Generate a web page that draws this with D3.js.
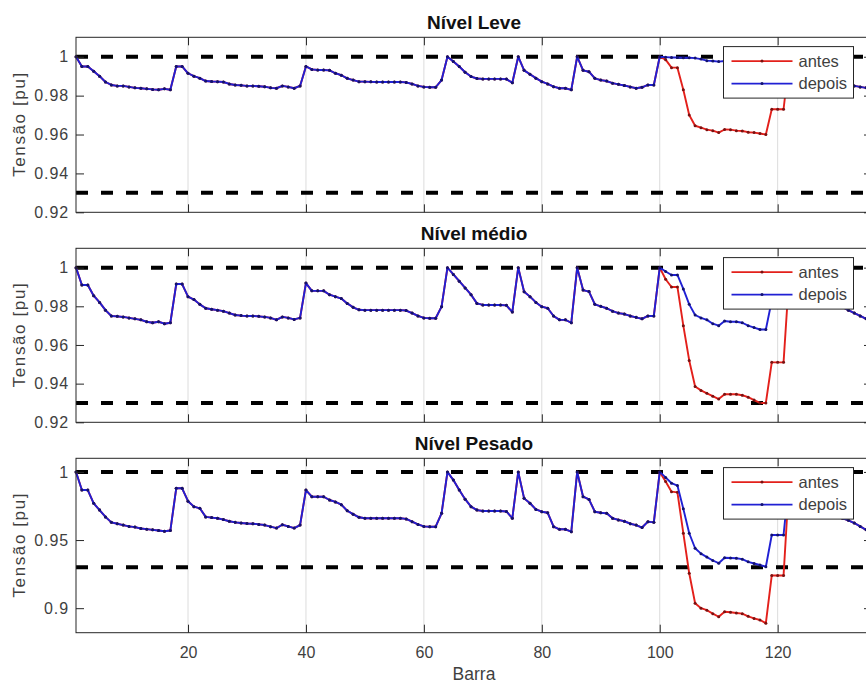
<!DOCTYPE html>
<html><head><meta charset="utf-8">
<script src="https://cdn.jsdelivr.net/npm/d3@7"></script>
<style>
body{margin:0;background:#fff}
svg{display:block}
text{font-family:"Liberation Sans",Arial,Helvetica,sans-serif}
</style>
</head><body>
<svg id="chart" width="866" height="684"></svg>
<script>
// ---------------- DATA ----------------
const barras = d3.range(1, 137); // bus numbers 1..136
const xTicks = [20, 40, 60, 80, 100, 120];
const yTicksA = [0.92, 0.94, 0.96, 0.98, 1];
const yTicksB = [0.9, 0.95, 1];
const limites = [1.0, 0.93];
const titulos = ["Nível Leve", "Nível médio", "Nível Pesado"];
const legendas = ["antes", "depois"];

const depoisLeve = [
 1.000,0.995,0.995,0.9925,0.990,0.987,0.9855,0.985,0.985,0.9845,
 0.984,0.9838,0.9835,0.9832,0.983,0.9835,0.983,0.995,0.995,0.9915,
 0.990,0.989,0.9875,0.9873,0.9872,0.987,0.986,0.9855,0.9853,0.985,
 0.985,0.9848,0.9846,0.984,0.9838,0.985,0.9845,0.9838,0.985,0.995,
 0.9935,0.9932,0.9932,0.993,0.9915,0.9905,0.9889,0.988,0.9872,0.9872,
 0.9871,0.987,0.987,0.987,0.987,0.987,0.9868,0.986,0.985,0.9845,
 0.9843,0.9843,0.988,1.000,0.9975,0.995,0.992,0.9898,0.9888,0.9886,
 0.9886,0.9886,0.9886,0.9885,0.9866,1.000,0.993,0.991,0.989,0.9872,
 0.986,0.9846,0.9838,0.9838,0.983,1.000,0.993,0.9923,0.9889,0.988,
 0.9875,0.9864,0.9858,0.9852,0.9845,0.9838,0.9843,0.9855,0.9855,1.000,
 0.9998,0.9996,0.9996,0.9995,0.9995,0.9993,0.9988,0.998,0.9978,0.9975,
 0.9978,0.9977,0.9977,0.9975,0.997,0.9968,0.9965,0.9965,0.9985,0.9985,
 0.9985,0.999,0.998,0.997,0.996,0.995,0.993,0.991,0.990,0.989,
 0.988,0.9865,0.985,0.9845,0.984,0.9835
];
const antesLeveTrecho = [ // buses 101..121
 0.9985,0.9944,0.9944,0.983,0.970,0.9645,0.9635,0.9625,0.962,0.961,
 0.9626,0.9625,0.962,0.9618,0.9612,0.961,0.9605,0.960,0.973,0.973,0.973
];

const depoisMedio = [
 1.000,0.991,0.991,0.9855,0.982,0.978,0.975,0.9748,0.9745,0.974,
 0.9735,0.973,0.972,0.9715,0.972,0.971,0.9715,0.9915,0.9915,0.985,
 0.9835,0.981,0.979,0.9785,0.978,0.9775,0.9765,0.9755,0.9752,0.975,
 0.975,0.9748,0.9745,0.974,0.973,0.9745,0.974,0.9732,0.974,0.992,
 0.988,0.988,0.988,0.986,0.985,0.984,0.9815,0.9795,0.9782,0.978,
 0.978,0.978,0.978,0.978,0.978,0.978,0.9778,0.9765,0.975,0.974,
 0.9738,0.9738,0.9798,1.000,0.9965,0.993,0.9895,0.986,0.9815,0.9807,
 0.9807,0.9807,0.9807,0.9805,0.977,1.000,0.9875,0.985,0.982,0.9798,
 0.979,0.975,0.973,0.973,0.9715,1.000,0.9884,0.9876,0.981,0.980,
 0.979,0.9775,0.9765,0.976,0.975,0.9743,0.9735,0.975,0.975,1.000,
 0.998,0.9962,0.9962,0.989,0.981,0.9755,0.974,0.973,0.971,0.970,
 0.9724,0.972,0.972,0.9715,0.970,0.969,0.968,0.968,0.983,0.983,
 0.983,0.998,0.997,0.995,0.993,0.991,0.989,0.986,0.983,0.9805,
 0.9795,0.978,0.9765,0.975,0.9735,0.9725
];
const antesMedioTrecho = [ // buses 101..121
 0.994,0.990,0.990,0.970,0.952,0.9385,0.9365,0.935,0.9335,0.932,
 0.9345,0.9345,0.9345,0.934,0.933,0.9315,0.930,0.930,0.951,0.951,0.951
];

const depoisPesado = [
 1.000,0.9867,0.9867,0.977,0.972,0.967,0.963,0.962,0.961,0.960,
 0.9595,0.9585,0.958,0.9575,0.957,0.9565,0.957,0.988,0.988,0.9785,
 0.9745,0.9733,0.967,0.9665,0.966,0.965,0.9638,0.963,0.9625,0.9622,
 0.962,0.9615,0.961,0.9598,0.9588,0.9612,0.960,0.9588,0.961,0.9867,
 0.9818,0.9818,0.9818,0.9794,0.978,0.976,0.9715,0.969,0.9667,0.966,
 0.966,0.966,0.966,0.966,0.966,0.966,0.9655,0.9635,0.9615,0.960,
 0.9598,0.9598,0.9696,1.000,0.994,0.9867,0.980,0.9745,0.972,0.9713,
 0.9713,0.9713,0.9713,0.971,0.966,1.000,0.9806,0.977,0.9725,0.9708,
 0.970,0.9598,0.9579,0.9579,0.9561,1.000,0.9818,0.9798,0.9708,0.970,
 0.9696,0.966,0.9648,0.9638,0.962,0.961,0.9592,0.9635,0.963,1.000,
 0.996,0.9917,0.990,0.973,0.955,0.944,0.940,0.9375,0.935,0.933,
 0.937,0.9368,0.9366,0.936,0.934,0.9328,0.9317,0.9304,0.9537,0.9537,
 0.9537,0.997,0.995,0.992,0.989,0.985,0.981,0.977,0.973,0.969,
 0.966,0.9645,0.9625,0.960,0.9575,0.956
];
const antesPesadoTrecho = [ // buses 101..121
 0.993,0.9855,0.985,0.955,0.9256,0.9036,0.900,0.8985,0.896,0.8937,
 0.8974,0.897,0.8965,0.896,0.894,0.8925,0.8913,0.889,0.924,0.924,0.924
];

// "antes" equals "depois" outside the modified stretch (buses 101..121)
function montarAntes(depois, trecho) {
  return depois.slice(0, 100).concat(trecho, depois.slice(121));
}
const antesLeve = montarAntes(depoisLeve, antesLeveTrecho);
const antesMedio = montarAntes(depoisMedio, antesMedioTrecho);
const antesPesado = montarAntes(depoisPesado, antesPesadoTrecho);

// ---------------- LAYOUT ----------------
const svg = d3.select("#chart");
svg.append("rect").attr("width", 866).attr("height", 684).attr("fill", "#fff");

const x = d3.scaleLinear().domain([1, 136]).range([76, 872]);

const panels = [
  {title: titulos[0], top: 37.3, bottom: 212.3, yDomain: [0.92, 1.01], yTicks: yTicksA, antes: antesLeve, depois: depoisLeve, showX: false},
  {title: titulos[1], top: 248.3, bottom: 422.3, yDomain: [0.92, 1.01], yTicks: yTicksA, antes: antesMedio, depois: depoisMedio, showX: false},
  {title: titulos[2], top: 458.3, bottom: 632.7, yDomain: [0.882, 1.01], yTicks: yTicksB, antes: antesPesado, depois: depoisPesado, showX: true}
];

const RED = "#e3201b", RED_DOT = "#7a1111";
const BLUE = "#2020d4", BLUE_DOT = "#12126e";
const AXIS = "#262626", LABEL = "#3f3f3f";

panels.forEach(p => {
  const y = d3.scaleLinear().domain(p.yDomain).range([p.bottom, p.top]);
  const g = svg.append("g");

  // vertical grid
  g.selectAll("line.grid").data(xTicks).enter().append("line")
    .attr("x1", d => x(d)).attr("x2", d => x(d))
    .attr("y1", p.top).attr("y2", p.bottom)
    .attr("stroke", "#dcdcdc").attr("stroke-width", 1);

  // limit lines
  g.selectAll("line.lim").data(limites).enter().append("line")
    .attr("x1", x(1)).attr("x2", x(136))
    .attr("y1", d => y(d)).attr("y2", d => y(d))
    .attr("stroke", "#000").attr("stroke-width", 4)
    .attr("stroke-dasharray", "12,13");

  const line = d3.line().x((d, i) => x(barras[i])).y(d => y(d));

  [[p.antes, RED, RED_DOT], [p.depois, BLUE, BLUE_DOT]].forEach(([vals, col, dcol]) => {
    g.append("path").datum(vals).attr("d", line)
      .attr("fill", "none").attr("stroke", col).attr("stroke-width", 1.9)
      .attr("stroke-linejoin", "round");
    g.selectAll(null).data(vals).enter().append("circle")
      .attr("cx", (d, i) => x(barras[i])).attr("cy", d => y(d))
      .attr("r", 1.5).attr("fill", dcol);
  });

  // box
  g.append("rect").attr("x", x(1)).attr("y", p.top)
    .attr("width", x(136) - x(1)).attr("height", p.bottom - p.top)
    .attr("fill", "none").attr("stroke", AXIS).attr("stroke-width", 1);

  // axes
  const left = g.append("g").attr("transform", `translate(${x(1)},0)`)
    .call(d3.axisLeft(y).tickValues(p.yTicks).tickSize(-8).tickPadding(7).tickFormat(d3.format("")));
  const right = g.append("g").attr("transform", `translate(${x(136)},0)`)
    .call(d3.axisRight(y).tickValues(p.yTicks).tickSize(-8).tickFormat(""));
  const bottom = g.append("g").attr("transform", `translate(0,${p.bottom})`)
    .call(d3.axisBottom(x).tickValues(xTicks).tickSize(-8).tickPadding(14).tickFormat(p.showX ? d3.format("") : ""));
  const top = g.append("g").attr("transform", `translate(0,${p.top})`)
    .call(d3.axisTop(x).tickValues(xTicks).tickSize(-8).tickFormat(""));
  [left, right, bottom, top].forEach(a => {
    a.select(".domain").remove();
    a.selectAll(".tick line").attr("stroke", AXIS);
    a.selectAll("text").attr("fill", LABEL).style("font-size", "16px");
  });
  left.selectAll("text").style("letter-spacing", "0.9px");

  // title
  g.append("text").attr("x", 474).attr("y", p.top - 8.5)
    .attr("text-anchor", "middle").style("font-size", "19px").style("font-weight", "bold")
    .attr("fill", "#111").text(p.title);

  // y label
  const cy = (p.top + p.bottom) / 2;
  g.append("text").attr("transform", `translate(25,${cy}) rotate(-90)`)
    .attr("text-anchor", "middle").style("font-size", "17px").attr("fill", LABEL)
    .attr("textLength", 104).attr("lengthAdjust", "spacing")
    .text("Tensão [pu]");

  // legend
  const lx = 723.5, ly = p.top + 9.3, lw = 130, lh = 51.5;
  const lg = g.append("g");
  lg.append("rect").attr("x", lx).attr("y", ly).attr("width", lw).attr("height", lh)
    .attr("fill", "#fff").attr("stroke", AXIS).attr("stroke-width", 1);
  [[legendas[0], RED, RED_DOT, 14.5], [legendas[1], BLUE, BLUE_DOT, 37]].forEach(([t, col, dcol, dy]) => {
    lg.append("line").attr("x1", lx + 8).attr("x2", lx + 69).attr("y1", ly + dy).attr("y2", ly + dy)
      .attr("stroke", col).attr("stroke-width", 1.9);
    lg.append("circle").attr("cx", lx + 38.5).attr("cy", ly + dy).attr("r", 1.5).attr("fill", dcol);
    lg.append("text").attr("x", lx + 75).attr("y", ly + dy).attr("dy", "0.35em")
      .style("font-size", "16.5px").attr("fill", LABEL).text(t);
  });
});

// x label
svg.append("text").attr("x", 474).attr("y", 680).attr("text-anchor", "middle")
  .style("font-size", "17.5px").attr("fill", LABEL).text("Barra");
</script>
</body></html>
